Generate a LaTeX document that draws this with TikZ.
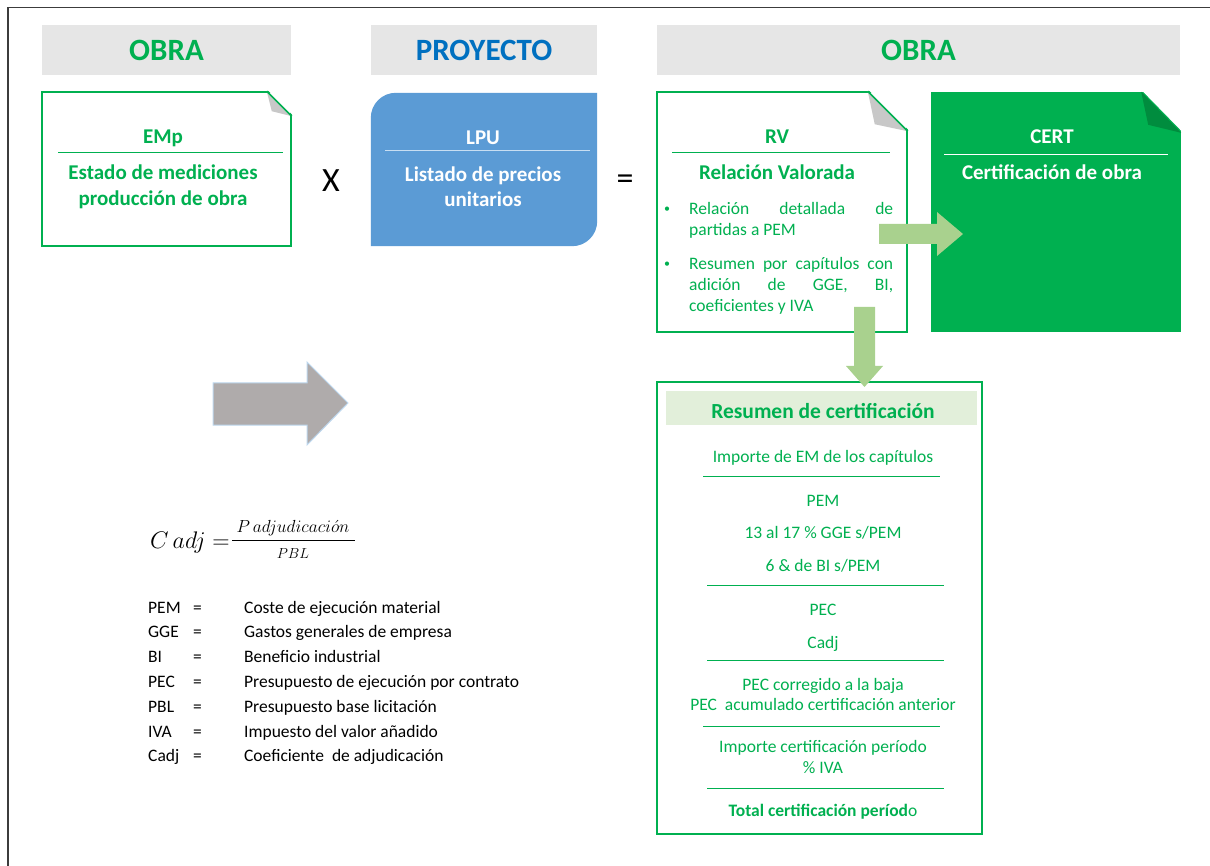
\RequirePackage{fix-cm}
\documentclass[tikz,border=0pt]{standalone}
\usepackage{fontspec}
\setmainfont{Carlito}
\usetikzlibrary{calc, positioning}
\definecolor{obragreen}{RGB}{0,176,80}
\definecolor{foldgreen}{RGB}{0,140,62}
\definecolor{headgray}{RGB}{230,230,230}
\definecolor{proyblue}{RGB}{0,112,192}
\definecolor{lpublue}{RGB}{91,155,213}
\definecolor{lpurule}{RGB}{200,222,242}
\definecolor{arrowgreen}{RGB}{169,209,142}
\definecolor{bandgreen}{RGB}{226,239,218}
\definecolor{arrowgray}{RGB}{175,171,171}
\definecolor{arrowedge}{RGB}{189,215,238}
\definecolor{foldgray}{RGB}{200,200,200}
\definecolor{framegray}{RGB}{60,60,60}

\begin{document}
\begin{tikzpicture}
	[x=1pt, y=-1pt,
	header/.style={fill=headgray, minimum height=50pt, inner sep=0pt, font=\fontsize{31}{36}\selectfont\bfseries},
	docbox/.style={draw=obragreen, line width=1.5pt, fill=white, inner sep=0pt},
	boxtitle/.style={anchor=base, inner sep=0pt, text=obragreen, font=\fontsize{21}{25}\selectfont\bfseries},
	sign/.style={anchor=base, inner sep=0pt, font=\fontsize{34}{40}\selectfont},
	sumtext/.style={anchor=base, inner sep=0pt, text=obragreen, font=\fontsize{17.5}{21}\selectfont},
	bullettext/.style={sumtext, anchor=base west},
	sumrule/.style={obragreen, line width=1pt}]

	\useasboundingbox (0,0) rectangle (1210,866);
	\draw[framegray, line width=1.8pt] (8,866) -- (8,7.5) -- (1210,7.5);

	\node[header, minimum width=249pt, text=obragreen](obraL) at (166.5,50) {OBRA};
	\node[header, minimum width=226pt, text=proyblue](proyecto) at (484,50) {PROYECTO};
	\node[header, minimum width=523pt, text=obragreen](obraR) at (918.5,50) {OBRA};

	\node[docbox, minimum width=249pt, minimum height=154pt](emp) at (166.5,169) {};
	\fill[white] ($(emp.north east)+(-25,-2)$) -- ($(emp.north east)+(2,-2)$) -- ($(emp.north east)+(2,25)$) -- cycle;
	\fill[foldgray] ($(emp.north east)+(-25,0)$) -- ($(emp.north east)+(0,25)$) -- ($(emp.north east)+(-20,20)$) -- cycle;
	\draw[obragreen, line width=1.5pt] ($(emp.north east)+(-25,0)$) -- ($(emp.north east)+(0,25)$);
	\node[boxtitle](empT) at (163,144) {EMp};
	\draw[obragreen, line width=0.8pt] (58,152) -- (283,152);
	\node[boxtitle](empA) at (163,180) {Estado de mediciones};
	\node[boxtitle](empB) at (163,206) {producción de obra};

	\node[sign](times) at (331,192) {X};

	\node[minimum width=226pt, minimum height=153pt, inner sep=0pt](lpu) at (484,169.5) {};
	\fill[lpublue] (lpu.south west) -- ($(lpu.north west)+(0,25)$) arc[start angle=180, end angle=90, radius=25pt]
		-- (lpu.north east) -- ($(lpu.south east)+(0,-25)$) arc[start angle=0, end angle=-90, radius=25pt] -- cycle;
	\node[boxtitle, text=white](lpuT) at (483,145) {LPU};
	\draw[lpurule, line width=0.8pt] (385,150) -- (590,150);
	\node[boxtitle, text=white](lpuA) at (483,182) {Listado de precios};
	\node[boxtitle, text=white](lpuB) at (483,207) {unitarios};

	\node[sign](equals) at (625,190) {=};

	\node[docbox, minimum width=250pt, minimum height=240pt](rv) at (782,212) {};
	\fill[white] ($(rv.north east)+(-40,-2)$) -- ($(rv.north east)+(2,-2)$) -- ($(rv.north east)+(2,40)$) -- cycle;
	\fill[foldgray] ($(rv.north east)+(-40,0)$) -- ($(rv.north east)+(0,40)$) -- ($(rv.north east)+(-33,33)$) -- cycle;
	\draw[obragreen, line width=1.5pt] ($(rv.north east)+(-40,0)$) -- ($(rv.north east)+(0,40)$);
	\node[boxtitle](rvT) at (777,144) {RV};
	\draw[obragreen, line width=0.8pt] (672,152) -- (890,152);
	\node[boxtitle](rvA) at (777,180) {Relación Valorada};
	\node[sumtext, font=\fontsize{12}{14}\selectfont](dotA) at (667,213) {\textbullet};
	\node[bullettext](rvA1) at (689,215) {\makebox[204pt][s]{Relación detallada de}};
	\node[bullettext](rvA2) at (689,236) {partidas a PEM};
	\node[sumtext, font=\fontsize{12}{14}\selectfont](dotB) at (667,268) {\textbullet};
	\node[bullettext](rvB1) at (689,270) {\makebox[204pt][s]{Resumen por capítulos con}};
	\node[bullettext](rvB2) at (689,291) {\makebox[204pt][s]{adición de GGE, BI,}};
	\node[bullettext](rvB3) at (689,312) {coeficientes y IVA};

	\node[fill=obragreen, minimum width=250pt, minimum height=240pt, inner sep=0pt](cert) at (1056,212) {};
	\fill[white] ($(cert.north east)+(-40,-2)$) -- ($(cert.north east)+(2,-2)$) -- ($(cert.north east)+(2,41)$) -- cycle;
	\fill[foldgreen] ($(cert.north east)+(-40,0)$) -- ($(cert.north east)+(0,41)$) -- ($(cert.north east)+(-33,33)$) -- cycle;
	\node[boxtitle, text=white](certT) at (1052,144) {CERT};
	\draw[white, line width=0.8pt] (944,154) -- (1168,154);
	\node[boxtitle, text=white](certA) at (1052,180) {Certificación de obra};

	\fill[arrowgreen] (879,224) -- (937,224) -- (937,212) -- (963,234) -- (937,256) -- (937,244) -- (879,244) -- cycle;

	\node[docbox, minimum width=325pt, minimum height=452pt](resumen) at (819.5,608) {};
	\fill[arrowgreen] (854,307) -- (875,307) -- (875,366) -- (883,366) -- (864.5,387) -- (846,366) -- (854,366) -- cycle;
	\node[fill=bandgreen, minimum width=311pt, minimum height=34pt, inner sep=0pt](band) at (821.5,408) {};
	\node[sumtext, font=\fontsize{21.5}{25}\selectfont\bfseries](sumT) at (823,418) {Resumen de certificación};
	\node[sumtext](emcap) at (823,462) {Importe de EM de los capítulos};
	\draw[sumrule] (703,476) -- (940,476);
	\node[sumtext](pem) at (823,506) {PEM};
	\node[sumtext](gge) at (823,538) {13 al 17 \% GGE s/PEM};
	\node[sumtext](bi) at (823,571) {6 \& de BI s/PEM};
	\draw[sumrule] (707,585) -- (944,585);
	\node[sumtext](pec) at (823,615) {PEC};
	\node[sumtext](cadj) at (823,648) {Cadj};
	\draw[sumrule] (707,660) -- (944,660);
	\node[sumtext](pecbaja) at (823,690) {PEC corregido a la baja};
	\node[sumtext](pecacum) at (823,710) {PEC~ acumulado certificación anterior};
	\draw[sumrule] (703,726) -- (940,726);
	\node[sumtext](importe) at (823,752) {Importe certificación período};
	\node[sumtext](iva) at (823,773) {\% IVA};
	\draw[sumrule] (707,788) -- (944,788);
	\node[sumtext](total) at (823,816) {\textbf{Total certificación períod}o};

	\filldraw[fill=arrowgray, draw=arrowedge, line width=1pt] (213,383) -- (307,383) -- (307,362) -- (348,403) -- (307,445) -- (307,425) -- (213,425) -- cycle;

	\node[anchor=base west, inner sep=0pt, font=\fontsize{24}{28}\selectfont](formula) at (150,548) {$C\,adj=$};
	\node[anchor=base, inner sep=0pt, font=\fontsize{17.5}{20}\selectfont](fnum) at (293,532) {$P\,adjudicaci\acute{o}n$};
	\draw[line width=1pt] (232,540.5) -- (355,540.5);
	\node[anchor=base, inner sep=0pt, font=\fontsize{14.5}{17}\selectfont](fden) at (293,558) {$PBL$};

	\node[anchor=base west, inner sep=0pt, font=\fontsize{17.5}{24.8}\selectfont](legend) at (148,613) {\begin{tabular}[t]{@{}p{45pt}@{}p{51pt}@{}l@{}}
		PEM & = & Coste de ejecución material\\
		GGE & = & Gastos generales de empresa\\
		BI & = & Beneficio industrial\\
		PEC & = & Presupuesto de ejecución por contrato\\
		PBL & = & Presupuesto base licitación\\
		IVA & = & Impuesto del valor añadido\\
		Cadj & = & Coeficiente~ de adjudicación
	\end{tabular}};
\end{tikzpicture}
\end{document}
